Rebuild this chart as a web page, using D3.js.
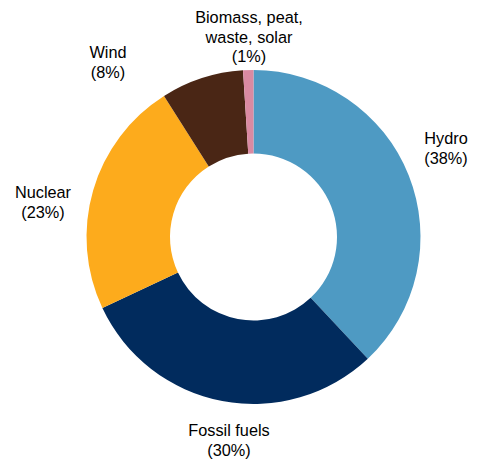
<!DOCTYPE html>
<html>
<head>
<meta charset="utf-8">
<script src="https://cdn.jsdelivr.net/npm/d3@7"></script>
<style>
  html, body { margin: 0; padding: 0; background: #fff; }
  svg { display: block; }
  text { font-family: "Liberation Sans", Arial, sans-serif; font-size: 16.3px; fill: #000; }
</style>
</head>
<body>
<svg id="chart" width="478" height="459"></svg>
<script>
// Data
const categories = ["Hydro", "Fossil fuels", "Nuclear", "Wind", "Biomass, peat, waste, solar"];
const values = [38, 30, 23, 8, 1];
const labelLines = [
  ["Hydro", "(38%)"],
  ["Fossil fuels", "(30%)"],
  ["Nuclear", "(23%)"],
  ["Wind", "(8%)"],
  ["Biomass, peat,", "waste, solar", "(1%)"]
];
const colors = ["#4e9ac3", "#012b5d", "#fdab1c", "#4a2615", "#da8aa2"];

// Layout
const width = 478, height = 459;
const cx = 253.5, cy = 237, outerR = 167, innerR = 83.5;
const lineH = 19.5;
// label anchor (center x, first baseline y), placed like the reference
const labelPos = [
  [446, 144],
  [229, 436],
  [43, 198],
  [108, 58],
  [249, 23]
];

const svg = d3.select("#chart");
const g = svg.append("g").attr("transform", `translate(${cx},${cy})`);

const pie = d3.pie().sort(null).value(d => d)(values);
const arc = d3.arc().innerRadius(innerR).outerRadius(outerR);

g.selectAll("path")
  .data(pie)
  .join("path")
  .attr("d", arc)
  .attr("fill", (d, i) => colors[i]);

const labels = svg.selectAll("text.lbl")
  .data(categories)
  .join("text")
  .attr("class", "lbl")
  .attr("text-anchor", "middle")
  .attr("x", (d, i) => labelPos[i][0])
  .attr("y", (d, i) => labelPos[i][1]);

labels.each(function(d, i) {
  const t = d3.select(this);
  labelLines[i].forEach((line, j) => {
    t.append("tspan")
      .attr("x", labelPos[i][0])
      .attr("y", labelPos[i][1] + j * lineH)
      .text(line);
  });
});
</script>
</body>
</html>
